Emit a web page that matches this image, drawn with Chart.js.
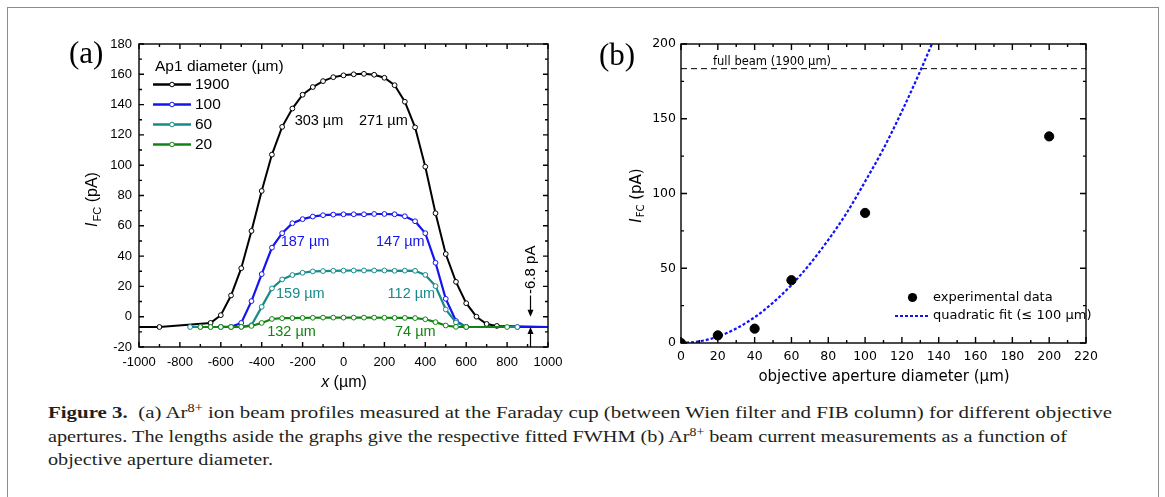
<!DOCTYPE html>
<html>
<head>
<meta charset="utf-8">
<script src="https://cdn.jsdelivr.net/npm/chart.js@4.4.1/dist/chart.umd.min.js"></script>
<style>
  body { margin: 0; background: #fff; width: 1165px; height: 497px; overflow: hidden; position: relative; }
  #frame { position: absolute; left: 7px; top: 7px; width: 1150px; height: 530px; border: 1px solid #8c8c8c; }
  #ca { position: absolute; left: 0; top: 0; }
  #cb { position: absolute; left: 580px; top: 0; }
  #cap { position: absolute; left: 48px; top: 401px; font-family: "Liberation Serif", serif; font-size: 17.5px; line-height: 23.5px; color: #231f20; }
  #cap div { white-space: nowrap; transform-origin: 0 0; display: inline-block; }
  #cap sup { font-size: 0.68em; vertical-align: 0.5em; line-height: 0; }
</style>
</head>
<body>
<div id="frame"></div>
<canvas id="ca" width="580" height="400"></canvas>
<canvas id="cb" width="585" height="400"></canvas>
<div id="cap">
  <div><b>Figure 3.</b>&nbsp; (a) Ar<sup>8+</sup> ion beam profiles measured at the Faraday cup (between Wien filter and FIB column) for different objective</div><br>
  <div>apertures. The lengths aside the graphs give the respective fitted FWHM (b) Ar<sup>8+</sup> beam current measurements as a function of</div><br>
  <div>objective aperture diameter.</div>
</div>
<script>
// ---- panel (a): beam profiles, x in µm, current in pA
const apertures = ['1900', '100', '60', '20'];
const colors = ['#000000', '#1414f0', '#178a8a', '#128312'];

const x1900 = [-1000, -900, -650, -600, -550, -500, -450, -400, -350, -300, -250, -200, -150, -100, -50, 0, 50, 100, 150, 200, 250, 300, 350, 400, 450, 500, 550, 600, 650, 700, 750, 1000];
const y1900 = [-6.8, -6.8, -4.1, 1, 14, 32, 56.6, 83, 107, 125.3, 137.4, 146.5, 151.6, 155.5, 158.1, 159.3, 160, 160.3, 159.7, 157.7, 152.8, 141.9, 125, 99, 68.3, 41.4, 23, 8.9, 0, -4.8, -6.1, -6.8];

const x100 = [-600, -550, -500, -450, -400, -350, -300, -250, -200, -150, -100, -50, 0, 50, 100, 150, 200, 250, 300, 350, 400, 450, 500, 550, 600, 850, 1000];
const y100 = [-6.7, -6.7, -4.1, 10.3, 28.1, 45.6, 55.1, 61.7, 64.4, 66.1, 67, 67.4, 67.6, 67.6, 67.6, 67.8, 67.8, 67.6, 66.3, 63, 55.1, 35.6, 11.8, -2.8, -6.7, -6.8, -6.8];

const x60 = [-750, -700, -650, -600, -550, -500, -450, -400, -350, -300, -250, -200, -150, -100, -50, 0, 50, 100, 150, 200, 250, 300, 350, 400, 450, 500, 550, 600, 850];
const y60 = [-6.8, -6.8, -6.8, -6.8, -6.8, -6.7, -5.6, 6.5, 18.7, 24.6, 27.5, 29, 29.9, 30.1, 30.3, 30.4, 30.5, 30.5, 30.5, 30.5, 30.3, 30.4, 30.3, 27.6, 20.2, 4.8, -3.8, -6.7, -6.8];

const x20 = [-700, -650, -600, -550, -500, -450, -400, -350, -300, -250, -200, -150, -100, -50, 0, 50, 100, 150, 200, 250, 300, 350, 400, 450, 500, 550, 600, 800];
const y20 = [-6.8, -6.8, -6.8, -6.8, -6.7, -6.1, -4.1, -1.5, -1.0, -0.9, -0.8, -0.7, -0.6, -0.6, -0.6, -0.6, -0.6, -0.6, -0.7, -0.8, -0.8, -0.9, -1.7, -3.6, -5.8, -6.7, -6.8, -6.8];

// FWHM labels: [text, x, y, series index]
const fwhmLabels = [
  ['303 µm', -120, 129.5, 0], ['271 µm', 195, 129.5, 0],
  ['187 µm', -188, 49, 1], ['147 µm', 278, 49, 1],
  ['159 µm', -211, 14.9, 2], ['112 µm', 332, 14.9, 2],
  ['132 µm', -254, -9.9, 3], ['74 µm', 351, -9.9, 3]
];
const offsetX = 912;
const offsetPA = -6.8;

// ---- panel (b): current vs objective aperture
const expDiam = [0, 20, 40, 60, 100, 200];
const expCurrent = [0, 5.1, 9.6, 42, 87, 138.2];
const fitDiam = [0, 10, 20, 30, 40, 50, 60, 70, 80, 90, 100, 110, 120, 130, 136.3];
const fitCurrent = [0, 1.1, 4.3, 9.7, 17.2, 27, 38.8, 52.8, 69, 87, 108, 130, 155, 182, 200];
const fullBeamDiam = [0, 220];
const fullBeamCurrent = [183.5, 183.5];

const pts = (xs, ys) => xs.map((x, i) => ({ x: x, y: ys[i] }));

function frameTicks(chart, xt, yt, len, minorLen) {
  const { ctx, chartArea: a, scales: { x, y } } = chart;
  ctx.save();
  ctx.strokeStyle = '#000';
  ctx.lineWidth = 1.4;
  ctx.strokeRect(a.left, a.top, a.right - a.left, a.bottom - a.top);
  ctx.beginPath();
  for (let v = x.min; v <= x.max + 1e-9; v += xt[1]) {
    const p = x.getPixelForValue(v);
    const L = Math.abs(v / xt[0] - Math.round(v / xt[0])) < 1e-6 ? len : minorLen;
    ctx.moveTo(p, a.bottom); ctx.lineTo(p, a.bottom - L);
    ctx.moveTo(p, a.top); ctx.lineTo(p, a.top + L);
  }
  for (let v = y.min; v <= y.max + 1e-9; v += yt[1]) {
    const p = y.getPixelForValue(v);
    const L = Math.abs(v / yt[0] - Math.round(v / yt[0])) < 1e-6 ? len : minorLen;
    ctx.moveTo(a.left, p); ctx.lineTo(a.left + L, p);
    ctx.moveTo(a.right, p); ctx.lineTo(a.right - L, p);
  }
  ctx.stroke();
  ctx.restore();
}

// rotated "I_FC (pA)" title
function currentTitle(ctx, cx, cy, family, size) {
  ctx.save();
  ctx.translate(cx, cy);
  ctx.rotate(-Math.PI / 2);
  ctx.fillStyle = '#000';
  ctx.textBaseline = 'middle';
  const fI = 'italic ' + size + 'px ' + family;
  const fS = Math.round(size * 0.68) + 'px ' + family;
  const fN = size + 'px ' + family;
  ctx.font = fI; const wI = ctx.measureText('I').width;
  ctx.font = fS; const wS = ctx.measureText('FC').width;
  ctx.font = fN; const wN = ctx.measureText(' (pA)').width;
  let p = -(wI + wS + wN) / 2;
  ctx.font = fI; ctx.fillText('I', p, 0); p += wI + 1;
  ctx.font = fS; ctx.fillText('FC', p, size * 0.3); p += wS;
  ctx.font = fN; ctx.fillText(' (pA)', p, 0);
  ctx.restore();
}

function arrow(ctx, x, y1, y2) {
  const d = y2 > y1 ? 1 : -1;
  ctx.beginPath();
  ctx.moveTo(x, y1); ctx.lineTo(x, y2 - d * 5);
  ctx.stroke();
  ctx.beginPath();
  ctx.moveTo(x, y2); ctx.lineTo(x - 3, y2 - d * 7); ctx.lineTo(x + 3, y2 - d * 7);
  ctx.closePath(); ctx.fill();
}

const sansA = '"Liberation Sans", Arial, sans-serif';
const sansB = '"DejaVu Sans", sans-serif';

const decorA = {
  id: 'decorA',
  afterDraw(chart) {
    const { ctx, scales: { x, y } } = chart;
    frameTicks(chart, [200, 100], [20, 10], 5, 3);
    ctx.save();
    // panel label
    ctx.fillStyle = '#000';
    ctx.font = '31px "Liberation Serif", serif';
    ctx.textBaseline = 'middle';
    ctx.fillText('(a)', 69, 55);
    // legend
    ctx.font = '15.5px ' + sansA;
    ctx.fillText('Ap1 diameter (µm)', 155, 67);
    apertures.forEach((lab, i) => {
      const ly = 84.5 + i * 20;
      ctx.strokeStyle = colors[i]; ctx.lineWidth = 2.4;
      ctx.beginPath(); ctx.moveTo(153, ly); ctx.lineTo(191, ly); ctx.stroke();
      ctx.fillStyle = '#fff'; ctx.lineWidth = 1;
      ctx.beginPath(); ctx.arc(172, ly, 2.3, 0, Math.PI * 2); ctx.fill(); ctx.stroke();
      ctx.fillStyle = '#000';
      ctx.fillText(lab, 195, ly + 0.5);
    });
    // FWHM labels
    ctx.font = '14.5px ' + sansA;
    ctx.textAlign = 'center';
    fwhmLabels.forEach(([t, vx, vy, s]) => {
      ctx.fillStyle = colors[s];
      ctx.fillText(t, x.getPixelForValue(vx), y.getPixelForValue(vy));
    });
    // offset marker
    const px = Math.round(x.getPixelForValue(offsetX)) + 0.5;
    ctx.fillStyle = '#000'; ctx.strokeStyle = '#000'; ctx.lineWidth = 1.2;
    ctx.save();
    ctx.translate(px, y.getPixelForValue(31));
    ctx.rotate(-Math.PI / 2);
    ctx.font = '15px ' + sansA;
    ctx.fillText('-6.8 pA', 0, 0);
    ctx.restore();
    arrow(ctx, px, y.getPixelForValue(14), y.getPixelForValue(0));
    arrow(ctx, px, y.getPixelForValue(-20), y.getPixelForValue(offsetPA));
    // axis titles
    ctx.textAlign = 'left';
    ctx.font = 'italic 16px ' + sansA;
    const wx = ctx.measureText('x').width;
    ctx.font = '16px ' + sansA;
    const wr = ctx.measureText(' (µm)').width;
    const sx = 344 - (wx + wr) / 2;
    ctx.font = 'italic 16px ' + sansA; ctx.fillText('x', sx, 383);
    ctx.font = '16px ' + sansA; ctx.fillText(' (µm)', sx + wx, 383);
    ctx.restore();
    currentTitle(ctx, 93, 200, sansA, 16);
  }
};

const decorB = {
  id: 'decorB',
  afterDraw(chart) {
    const { ctx } = chart;
    frameTicks(chart, [20, 10], [50, 25], 6, 3);
    ctx.save();
    ctx.fillStyle = '#000';
    ctx.textBaseline = 'middle';
    ctx.font = '31px "Liberation Serif", serif';
    ctx.fillText('(b)', 19, 57);
    ctx.font = '11.5px ' + sansB;
    ctx.fillText('full beam (1900 µm)', 133, 62);
    // legend
    ctx.beginPath(); ctx.arc(332.5, 297.5, 4.6, 0, Math.PI * 2); ctx.fill();
    ctx.strokeStyle = '#1010ff'; ctx.lineWidth = 2.2; ctx.setLineDash([3, 2]);
    ctx.beginPath(); ctx.moveTo(315, 316); ctx.lineTo(349, 316); ctx.stroke();
    ctx.setLineDash([]);
    ctx.font = '13px ' + sansB;
    ctx.fillText('experimental data', 353, 297.5);
    ctx.fillText('quadratic fit (≤ 100 µm)', 353, 316);
    // x title
    ctx.font = '15px ' + sansB;
    ctx.textAlign = 'center';
    ctx.fillText('objective aperture diameter (µm)', 304, 377);
    ctx.restore();
    currentTitle(ctx, 57, 196, sansB, 15);
  }
};

const tickFont = (family, size) => ({ family: family, size: size });
const noGrid = { display: false, drawTicks: false };

new Chart(document.getElementById('ca'), {
  type: 'scatter',
  data: {
    datasets: [
      { data: pts(x1900, y1900), order: 4 },
      { data: pts(x100, y100), order: 3 },
      { data: pts(x60, y60), order: 2 },
      { data: pts(x20, y20), order: 1 }
    ].map((d, i) => Object.assign(d, {
      showLine: true,
      borderColor: colors[i],
      borderWidth: i === 0 ? 2 : 2.2,
      pointBackgroundColor: '#fff',
      pointBorderColor: colors[i],
      pointBorderWidth: 1,
      pointRadius: ctx => (ctx.raw && Math.abs(ctx.raw.x) >= 1000 ? 0 : 2.4),
      tension: 0
    }))
  },
  options: {
    responsive: false,
    animation: false,
    events: [],
    layout: { padding: { left: 0, top: 44, right: 32, bottom: 0 } },
    plugins: { legend: { display: false }, tooltip: { enabled: false } },
    scales: {
      x: {
        type: 'linear', min: -1000, max: 1000,
        grid: noGrid, border: { display: false },
        ticks: { stepSize: 200, padding: 8, color: '#000', font: tickFont(sansA, 13), callback: v => String(v), maxRotation: 0 },
        afterFit: s => { s.height = 53; }
      },
      y: {
        min: -20, max: 180,
        grid: noGrid, border: { display: false },
        ticks: { stepSize: 20, padding: 7, color: '#000', font: tickFont(sansA, 13), callback: v => String(v) },
        afterFit: s => { s.width = 139; }
      }
    }
  },
  plugins: [decorA]
});

new Chart(document.getElementById('cb'), {
  type: 'scatter',
  data: {
    datasets: [
      { data: pts(expDiam, expCurrent), pointRadius: 4.6, pointBackgroundColor: '#000', pointBorderColor: '#000', showLine: false },
      { data: pts(fitDiam, fitCurrent), showLine: true, pointRadius: 0, borderColor: '#1010ff', borderWidth: 2.2, borderDash: [3, 2], cubicInterpolationMode: 'monotone' },
      { data: pts(fullBeamDiam, fullBeamCurrent), showLine: true, pointRadius: 0, borderColor: '#000', borderWidth: 1, borderDash: [6, 4] }
    ]
  },
  options: {
    responsive: false,
    animation: false,
    events: [],
    layout: { padding: { left: 0, top: 44, right: 79, bottom: 0 } },
    plugins: { legend: { display: false }, tooltip: { enabled: false } },
    scales: {
      x: {
        type: 'linear', min: 0, max: 220,
        grid: noGrid, border: { display: false },
        ticks: { stepSize: 20, padding: 6, color: '#000', font: tickFont(sansB, 12.5), callback: v => String(v), maxRotation: 0 },
        afterFit: s => { s.height = 57; }
      },
      y: {
        min: 0, max: 200,
        grid: noGrid, border: { display: false },
        ticks: { stepSize: 50, padding: 5, color: '#000', font: tickFont(sansB, 12.5), callback: v => String(v) },
        afterFit: s => { s.width = 101; }
      }
    }
  },
  plugins: [decorB]
});

// fit caption lines to the widths of the printed caption
const capWidths = [1064, 1019, 225];
document.querySelectorAll('#cap div').forEach((el, i) => {
  const w = el.getBoundingClientRect().width;
  el.style.transform = 'scaleX(' + (capWidths[i] / w) + ')';
});
</script>
</body>
</html>
